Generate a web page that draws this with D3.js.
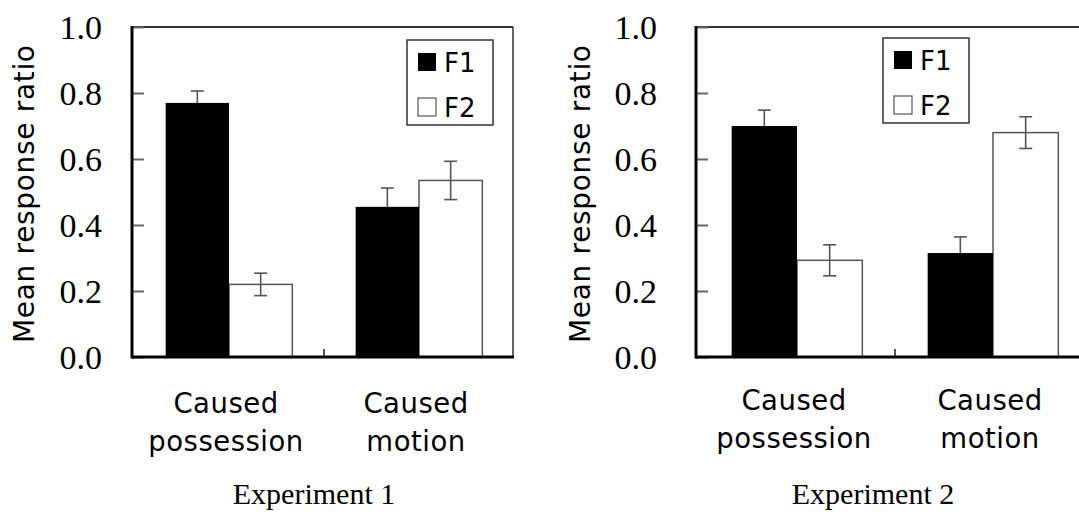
<!DOCTYPE html>
<html>
<head>
<meta charset="utf-8">
<script src="https://cdn.jsdelivr.net/npm/d3@7"></script>
<style>
  body { margin: 0; background: #fff; }
  svg { display: block; }
</style>
</head>
<body>
<div id="chart"></div>
<script>
//Datos
const categories = ['Caused possession', 'Caused motion'];
const categoryLines = [['Caused', 'possession'], ['Caused', 'motion']];
const series = ['F1', 'F2'];
const yTicks = [0, 0.2, 0.4, 0.6, 0.8, 1.0];
const experimentTitles = ['Experiment 1', 'Experiment 2'];

//Experiment 1
const exp1F1 = [0.77, 0.455];
const exp1F2 = [0.22, 0.535];
const exp1F1Err = [0.036, 0.057];
const exp1F2Err = [0.034, 0.058];

//Experiment 2
const exp2F1 = [0.70, 0.315];
const exp2F2 = [0.293, 0.68];
const exp2F1Err = [0.048, 0.049];
const exp2F2Err = [0.047, 0.048];

const width = 1079, height = 512;
const SERIF = '"Liberation Serif", "Times New Roman", serif';
const SANS = '"DejaVu Sans", sans-serif';

let svg = d3.select('#chart')
    .append('svg')
        .attr('width', width)
        .attr('height', height);

//Posiciones de cada panel
const panels = [
    { title: experimentTitles[0], f1: exp1F1, f2: exp1F2, e1: exp1F1Err, e2: exp1F2Err,
      x0: 134, x1: 514, frameL: 132, frameR: 513, labelX: 102, titleX: 34,
      legX: 407, legY: 40, catY: 413, expX: 314 },
    { title: experimentTitles[1], f1: exp2F1, f2: exp2F2, e1: exp2F1Err, e2: exp2F2Err,
      x0: 699, x1: 1091, frameL: 696, frameR: 1091, labelX: 657, titleX: 590,
      legX: 883, legY: 38, catY: 410, expX: 873 }
];

let y = d3.scaleLinear()
    .domain([0, 1])
    .range([357, 27]);

panels.forEach(function(p) {
    let g = svg.append('g');

    let x = d3.scaleBand()
        .domain(categories)
        .range([p.x0, p.x1])
        .padding(0);

    let xs = d3.scaleBand()
        .domain(series)
        .range([0, x.bandwidth()])
        .paddingInner(0)
        .paddingOuter(0.5);

    let rows = categories.map(function(c, i) {
        return { cat: c, F1: p.f1[i], F2: p.f2[i], errF1: p.e1[i], errF2: p.e2[i] };
    });

    //Marco superior y derecho
    g.append('line')
        .attr('x1', p.frameL).attr('x2', p.frameR)
        .attr('y1', y(1)).attr('y2', y(1))
        .attr('stroke', '#333').attr('stroke-width', 2);
    g.append('line')
        .attr('x1', p.frameR).attr('x2', p.frameR)
        .attr('y1', y(1)).attr('y2', y(0))
        .attr('stroke', '#333').attr('stroke-width', 1.5);

    //Ticks interiores
    g.append('g')
        .attr('transform', 'translate(' + p.frameL + ',0)')
        .call(d3.axisRight(y).tickValues(yTicks).tickSize(12).tickFormat(''))
        .call(function(a) { a.select('.domain').remove(); })
        .call(function(a) { a.selectAll('.tick line').attr('stroke', '#666').attr('stroke-width', 2); });

    //Etiquetas eje Y
    g.append('g')
        .attr('transform', 'translate(' + p.frameL + ',0)')
        .call(d3.axisLeft(y).tickValues(yTicks).tickSize(0).tickPadding(p.frameL - p.labelX).tickFormat(d3.format('.1f')))
        .call(function(a) { a.select('.domain').remove(); })
        .call(function(a) {
            a.selectAll('.tick text')
                .attr('font-family', SERIF)
                .attr('font-size', 34)
                .attr('fill', '#000')
                .attr('dy', '0.34em');
        });

    //Barras F2 (debajo de las barras de error)
    g.selectAll('.barF2')
        .data(rows)
        .enter()
        .append('rect')
        .attr('x', function(d) { return x(d.cat) + xs('F2'); })
        .attr('y', function(d) { return y(d.F2); })
        .attr('width', xs.bandwidth())
        .attr('height', function(d) { return y(0) - y(d.F2); })
        .attr('fill', '#fff')
        .attr('stroke', '#555')
        .attr('stroke-width', 1.5);

    //Barras de error
    series.forEach(function(s) {
        let eb = g.selectAll('.err' + s)
            .data(rows)
            .enter()
            .append('g')
            .attr('stroke', '#555')
            .attr('stroke-width', 1.6);
        let cx = function(d) { return x(d.cat) + xs(s) + xs.bandwidth() / 2; };
        eb.append('line')
            .attr('x1', cx).attr('x2', cx)
            .attr('y1', function(d) { return y(d[s] + d['err' + s]); })
            .attr('y2', function(d) { return y(d[s] - d['err' + s]); });
        [1, -1].forEach(function(sign) {
            eb.append('line')
                .attr('x1', function(d) { return cx(d) - 6.5; })
                .attr('x2', function(d) { return cx(d) + 6.5; })
                .attr('y1', function(d) { return y(d[s] + sign * d['err' + s]); })
                .attr('y2', function(d) { return y(d[s] + sign * d['err' + s]); });
        });
    });

    //Barras F1 (tapan la parte inferior del error)
    g.selectAll('.barF1')
        .data(rows)
        .enter()
        .append('rect')
        .attr('x', function(d) { return x(d.cat) + xs('F1'); })
        .attr('y', function(d) { return y(d.F1); })
        .attr('width', xs.bandwidth())
        .attr('height', function(d) { return y(0) - y(d.F1); })
        .attr('fill', '#000');

    //Tick entre categorías
    g.append('line')
        .attr('x1', x(categories[1])).attr('x2', x(categories[1]))
        .attr('y1', y(0)).attr('y2', y(0) - 8)
        .attr('stroke', '#555').attr('stroke-width', 2);

    //Ejes izquierdo e inferior
    g.append('line')
        .attr('x1', p.frameL).attr('x2', p.frameL)
        .attr('y1', y(1) - 1).attr('y2', y(0) + 1.5)
        .attr('stroke', '#000').attr('stroke-width', 3);
    g.append('line')
        .attr('x1', p.frameL).attr('x2', p.frameR + 1)
        .attr('y1', y(0)).attr('y2', y(0))
        .attr('stroke', '#000').attr('stroke-width', 3);

    //Etiquetas de categoría
    let lbl = g.selectAll('.catlabel')
        .data(categories)
        .enter()
        .append('text')
        .attr('text-anchor', 'middle')
        .attr('font-family', SANS)
        .attr('font-size', 27.5)
        .attr('letter-spacing', 0.5)
        .attr('fill', '#000');
    lbl.each(function(c, i) {
        let t = d3.select(this);
        categoryLines[i].forEach(function(line, j) {
            t.append('tspan')
                .attr('x', x(c) + x.bandwidth() / 2 - 3)
                .attr('y', p.catY + j * 38)
                .text(line);
        });
    });

    //Título eje Y
    g.append('text')
        .attr('transform', 'translate(' + p.titleX + ',' + ((y(0) + y(1)) / 2 + 2) + ') rotate(-90)')
        .attr('text-anchor', 'middle')
        .attr('font-family', SANS)
        .attr('font-size', 28)
        .attr('textLength', 298)
        .attr('lengthAdjust', 'spacing')
        .attr('fill', '#000')
        .text('Mean response ratio');

    //Título del experimento
    g.append('text')
        .attr('x', p.expX)
        .attr('y', 504)
        .attr('text-anchor', 'middle')
        .attr('font-family', SERIF)
        .attr('font-size', 30)
        .attr('fill', '#000')
        .text(p.title);

    //Leyenda
    let leg = g.append('g')
        .attr('transform', 'translate(' + p.legX + ',' + p.legY + ')');
    leg.append('rect')
        .attr('width', 86).attr('height', 85)
        .attr('fill', '#fff')
        .attr('stroke', '#333').attr('stroke-width', 1.5);
    series.forEach(function(s, i) {
        leg.append('rect')
            .attr('x', 11).attr('y', 13 + i * 45)
            .attr('width', 18).attr('height', 18)
            .attr('fill', s === 'F1' ? '#000' : '#fff')
            .attr('stroke', s === 'F1' ? 'none' : '#555')
            .attr('stroke-width', 1.2);
        leg.append('text')
            .attr('x', 37).attr('y', 32 + i * 45)
            .attr('font-family', SANS)
            .attr('font-size', 26)
            .attr('fill', '#000')
            .text(s);
    });
});
</script>
</body>
</html>
